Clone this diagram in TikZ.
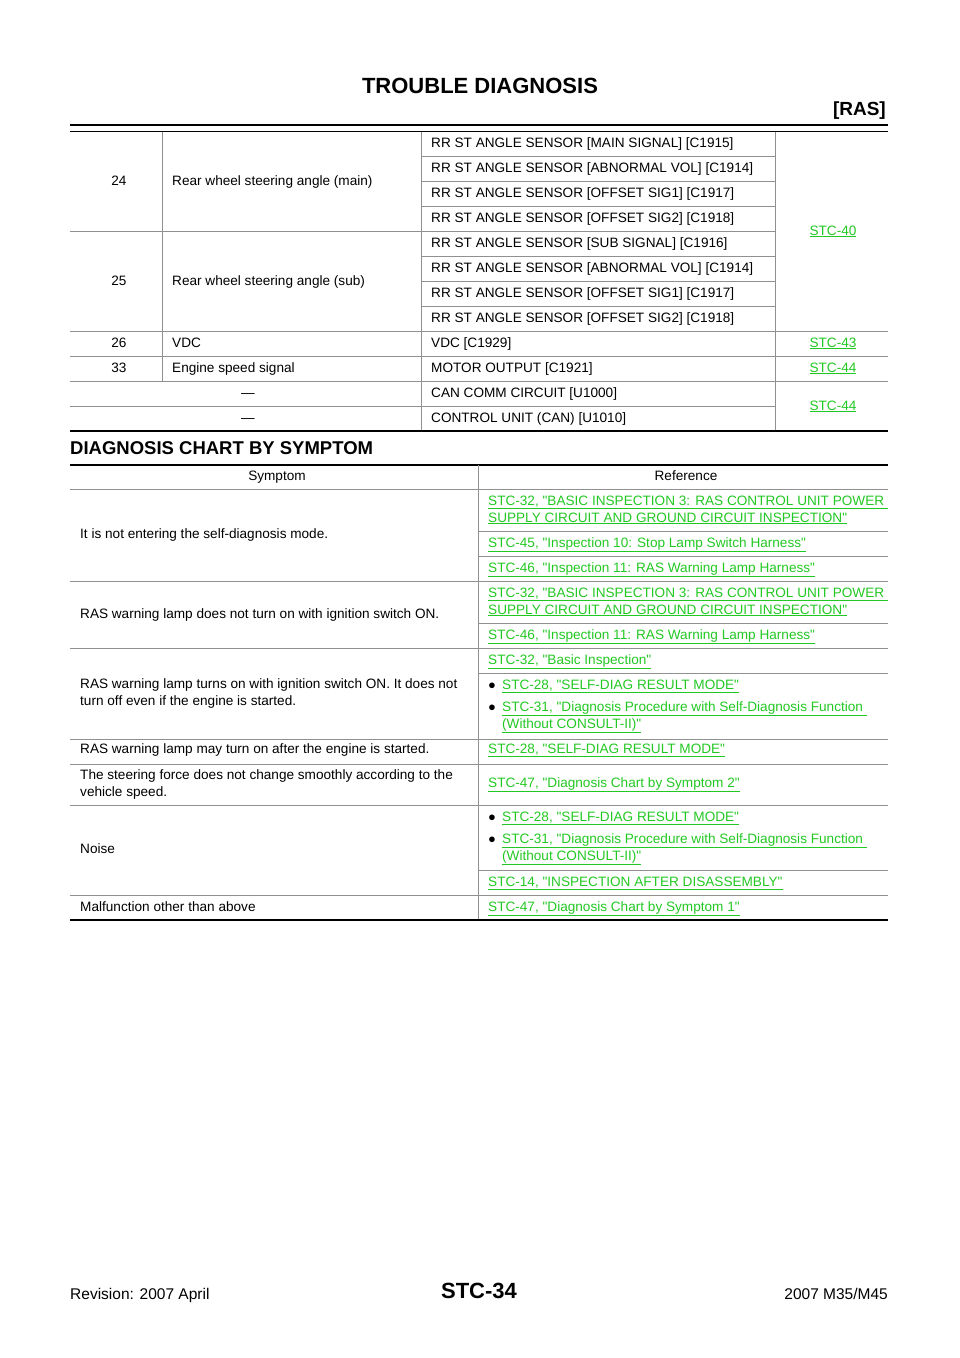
\documentclass[tikz,border=0pt]{standalone}
\usepackage{fontspec}
\setmainfont{Liberation Sans}[Ligatures=TeXOff]
\definecolor{lnk}{HTML}{22C822}
\definecolor{grd}{HTML}{909090}
\newcommand\qq{"}
\newcommand\bul{{\fontsize{13}{13}\selectfont\char"25CF}}
\begin{document}
\begin{tikzpicture}[x=1pt,y=-1pt,
  t/.style={anchor=base west,inner sep=0pt,font=\fontsize{13.6}{16}\selectfont},
  tc/.style={anchor=base,inner sep=0pt,font=\fontsize{13.6}{16}\selectfont},
  lk/.style={anchor=base west,inner sep=0pt,font=\fontsize{13.6}{16}\selectfont,text=lnk},
  gl/.style={grd,line width=0.8pt},
  th/.style={black,line width=2pt}]
\useasboundingbox (0,0) rectangle (960,1358);
% header
\node[anchor=base,inner sep=0pt,font=\bfseries\fontsize{22}{26}\selectfont] (title) at (480,93) {TROUBLE DIAGNOSIS};
\node[anchor=base east,inner sep=0pt,font=\bfseries\fontsize{19}{22}\selectfont] (ras) at (886,115) {[RAS]};
\draw[th] (70,125) -- (888,125);
\draw[black,line width=1.2pt] (70,131.5) -- (888,131.5);
% table 1 grid
\foreach \y in {156,181,206,256,281,306} \draw[gl] (421,\y) -- (775,\y);
\foreach \y in {231} \draw[gl] (70,\y) -- (775,\y);
\foreach \y in {331,356,381} \draw[gl] (70,\y) -- (888,\y);
\draw[gl] (70,406) -- (775,406);
\draw[gl] (162,132) -- (162,381);
\draw[gl] (421,132) -- (421,431);
\draw[gl] (775,132) -- (775,431);
\draw[th] (70,431) -- (888,431);
% table 1 text
\node[tc] (n24) at (119,185) {24};
\node[t] (d24) at (172,185) {Rear wheel steering angle (main)};
\node[tc] (n25) at (119,285) {25};
\node[t] (d25) at (172,285) {Rear wheel steering angle (sub)};
\node[t] (r1) at (431,147) {RR ST ANGLE SENSOR [MAIN SIGNAL] [C1915]};
\node[t] (r2) at (431,172) {RR ST ANGLE SENSOR [ABNORMAL VOL] [C1914]};
\node[t] (r3) at (431,197) {RR ST ANGLE SENSOR [OFFSET SIG1] [C1917]};
\node[t] (r4) at (431,222) {RR ST ANGLE SENSOR [OFFSET SIG2] [C1918]};
\node[t] (r5) at (431,247) {RR ST ANGLE SENSOR [SUB SIGNAL] [C1916]};
\node[t] (r6) at (431,272) {RR ST ANGLE SENSOR [ABNORMAL VOL] [C1914]};
\node[t] (r7) at (431,297) {RR ST ANGLE SENSOR [OFFSET SIG1] [C1917]};
\node[t] (r8) at (431,322) {RR ST ANGLE SENSOR [OFFSET SIG2] [C1918]};
\node[tc,text=lnk] (s40) at (833,235) {\underline{STC-40}};
\node[tc] (n26) at (119,347) {26};
\node[t] (d26) at (172,347) {VDC};
\node[t] (r26) at (431,347) {VDC [C1929]};
\node[tc,text=lnk] (s43) at (833,347) {\underline{STC-43}};
\node[tc] (n33) at (119,372) {33};
\node[t] (d33) at (172,372) {Engine speed signal};
\node[t] (r33) at (431,372) {MOTOR OUTPUT [C1921]};
\node[tc,text=lnk] (s44a) at (833,372) {\underline{STC-44}};
\node[tc] (m1) at (248,397) {—};
\node[t] (rc1) at (431,397) {CAN COMM CIRCUIT [U1000]};
\node[tc] (m2) at (248,422) {—};
\node[t] (rc2) at (431,422) {CONTROL UNIT (CAN) [U1010]};
\node[tc,text=lnk] (s44b) at (833,410) {\underline{STC-44}};
% section 2
\node[anchor=base west,inner sep=0pt,font=\bfseries\fontsize{18.5}{22}\selectfont] (sec) at (70,454) {DIAGNOSIS CHART BY SYMPTOM};
\draw[th] (70,464.5) -- (888,464.5);
\foreach \y in {489,581,648,739,764,805,895} \draw[gl] (70,\y) -- (888,\y);
\foreach \y in {531,556,623,673,870} \draw[gl] (478,\y) -- (888,\y);
\draw[gl] (478,465) -- (478,920);
\draw[th] (70,920) -- (888,920);
\node[tc] (hs) at (277,480) {Symptom};
\node[tc] (hr) at (686,480) {Reference};
\node[t] (sy1) at (80,538) {It is not entering the self-diagnosis mode.};
\node[t] (sy2) at (80,618) {RAS warning lamp does not turn on with ignition switch ON.};
\node[t] (sy3a) at (80,688) {RAS warning lamp turns on with ignition switch ON. It does not};
\node[t] (sy3b) at (80,705) {turn off even if the engine is started.};
\node[t] (sy4) at (80,753) {RAS warning lamp may turn on after the engine is started.};
\node[t] (sy5a) at (80,779) {The steering force does not change smoothly according to the};
\node[t] (sy5b) at (80,796) {vehicle speed.};
\node[t] (sy6) at (80,853) {Noise};
\node[t] (sy7) at (80,911) {Malfunction other than above};
% references
\node[lk] (a1) at (488,505) {\underline{STC-32, "BASIC INSPECTION 3: RAS CONTROL UNIT POWER\ }};
\node[lk] (a2) at (488,522) {\underline{SUPPLY CIRCUIT AND GROUND CIRCUIT INSPECTION"}};
\node[lk] (a3) at (488,547) {\underline{STC-45, "Inspection 10: Stop Lamp Switch Harness"}};
\node[lk] (a4) at (488,572) {\underline{STC-46, "Inspection 11: RAS Warning Lamp Harness"}};
\node[lk] (b1) at (488,597) {\underline{STC-32, "BASIC INSPECTION 3: RAS CONTROL UNIT POWER\ }};
\node[lk] (b2) at (488,614) {\underline{SUPPLY CIRCUIT AND GROUND CIRCUIT INSPECTION"}};
\node[lk] (b3) at (488,639) {\underline{STC-46, "Inspection 11: RAS Warning Lamp Harness"}};
\node[lk] (c1) at (488,664) {\underline{STC-32, "Basic Inspection"}};
\node[t] (cb1) at (488,689) {\bul};
\node[lk] (c2) at (502,689) {\underline{STC-28, "SELF-DIAG RESULT MODE"}};
\node[t] (cb2) at (488,711) {\bul};
\node[lk] (c3) at (502,711) {\underline{STC-31, "Diagnosis Procedure with Self-Diagnosis Function\ }};
\node[lk] (c4) at (502,728) {\underline{(Without CONSULT-II)"}};
\node[lk] (d1) at (488,753) {\underline{STC-28, "SELF-DIAG RESULT MODE"}};
\node[lk] (e1) at (488,787) {\underline{STC-47, "Diagnosis Chart by Symptom 2"}};
\node[t] (fb1) at (488,821) {\bul};
\node[lk] (f1) at (502,821) {\underline{STC-28, "SELF-DIAG RESULT MODE"}};
\node[t] (fb2) at (488,843) {\bul};
\node[lk] (f2) at (502,843) {\underline{STC-31, "Diagnosis Procedure with Self-Diagnosis Function\ }};
\node[lk] (f3) at (502,860) {\underline{(Without CONSULT-II)"}};
\node[lk] (f4) at (488,886) {\underline{STC-14, "INSPECTION AFTER DISASSEMBLY"}};
\node[lk] (g1) at (488,911) {\underline{STC-47, "Diagnosis Chart by Symptom 1"}};
% footer
\node[t,font=\fontsize{15.5}{18}\selectfont] (rev) at (70,1299) {Revision: 2007 April};
\node[anchor=base,inner sep=0pt,font=\bfseries\fontsize{22}{26}\selectfont] (pg) at (479,1298) {STC-34};
\node[anchor=base east,inner sep=0pt,font=\fontsize{15.5}{18}\selectfont] (mdl) at (888,1299) {2007 M35/M45};
\end{tikzpicture}
\end{document}
